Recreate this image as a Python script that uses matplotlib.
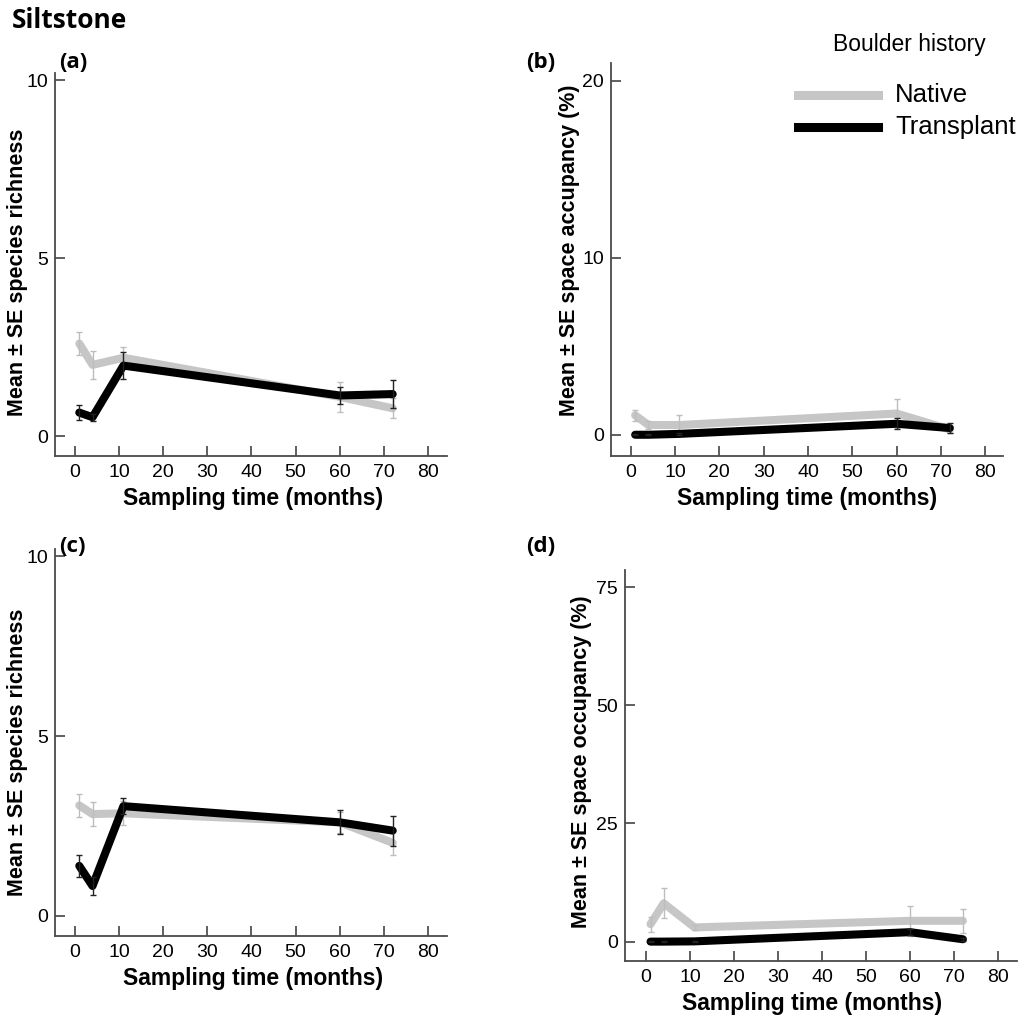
import numpy as np
import matplotlib
matplotlib.use('Agg')
import matplotlib.pyplot as plt
from matplotlib.lines import Line2D

plt.rcParams['font.family'] = ['Liberation Sans', 'DejaVu Sans']

months = [1, 4, 11, 60, 72]

# (a) species richness
a_native = [2.6, 2.0, 2.2, 1.1, 0.78]
a_native_se = [0.33, 0.4, 0.3, 0.43, 0.28]
a_trans = [0.66, 0.53, 1.98, 1.14, 1.18]
a_trans_se = [0.2, 0.1, 0.38, 0.25, 0.4]

# (b) space occupancy
b_native = [1.1, 0.55, 0.55, 1.2, 0.3]
b_native_se = [0.3, 0.2, 0.55, 0.8, 0.2]
b_trans = [0.0, 0.0, 0.05, 0.62, 0.38]
b_trans_se = [0.02, 0.02, 0.05, 0.3, 0.28]

# (c) species richness
c_native = [3.07, 2.83, 2.85, 2.6, 2.03]
c_native_se = [0.33, 0.33, 0.33, 0.3, 0.33]
c_trans = [1.39, 0.83, 3.05, 2.6, 2.37]
c_trans_se = [0.31, 0.25, 0.23, 0.33, 0.42]

# (d) space occupancy
d_native = [3.7, 8.1, 3.0, 4.4, 4.4]
d_native_se = [1.6, 3.2, 0.5, 3.2, 2.6]
d_trans = [0.0, 0.0, 0.05, 2.0, 0.5]
d_trans_se = [0.1, 0.1, 0.1, 0.6, 0.3]

x_ticks = [0, 10, 20, 30, 40, 50, 60, 70, 80]
legend_labels = ['Native', 'Transplant']
GRAY = '#c6c6c6'

W, H = 1024, 1021
fig = plt.figure(figsize=(W / 100, H / 100), dpi=100)


def px_axes(left, top, right, bottom):
    return fig.add_axes([left / W, 1 - bottom / H, (right - left) / W, (bottom - top) / H])


def draw_panel(ax, native, native_se, trans, trans_se, xlim, ylim, yticks):
    ax.plot(months, native, color=GRAY, lw=5.8, solid_capstyle='round',
            solid_joinstyle='round', zorder=2)
    ax.errorbar(months, native, yerr=native_se, fmt='none', ecolor='#bdbdbd',
                elinewidth=1.0, capsize=2.5, capthick=1.0, zorder=3)
    ax.plot(months, trans, color='black', lw=5.8, solid_capstyle='round',
            solid_joinstyle='round', zorder=4)
    ax.errorbar(months, trans, yerr=trans_se, fmt='none', ecolor='#222222',
                elinewidth=1.0, capsize=2.5, capthick=1.0, zorder=5)
    ax.set_xlim(*xlim)
    ax.set_ylim(*ylim)
    ax.set_xticks(x_ticks)
    ax.set_yticks(yticks)
    for s in ['top', 'right']:
        ax.spines[s].set_visible(False)
    for s in ['left', 'bottom']:
        ax.spines[s].set_color('#4a4a4a')
        ax.spines[s].set_linewidth(1.3)
    ax.tick_params(axis='x', direction='in', length=7.5, width=1.2, color='#444444',
                   labelsize=14, pad=6)
    ax.tick_params(axis='y', direction='in', length=7.5, width=1.2, color='#444444',
                   labelsize=14, pad=5)


# panel (a)
ax_a = px_axes(55, 73, 447, 456)
draw_panel(ax_a, a_native, a_native_se, a_trans, a_trans_se,
           (-4.5, 84.3), (-0.56, 10.2), [0, 5, 10])
# panel (b)
ax_b = px_axes(611, 63, 1003, 456)
draw_panel(ax_b, b_native, b_native_se, b_trans, b_trans_se,
           (-4.45, 84.0), (-1.2, 21.0), [0, 10, 20])
# panel (c)
ax_c = px_axes(55, 549, 447, 936)
draw_panel(ax_c, c_native, c_native_se, c_trans, c_trans_se,
           (-4.5, 84.3), (-0.56, 10.2), [0, 5, 10])
# panel (d)
ax_d = px_axes(625, 570, 1017, 961)
draw_panel(ax_d, d_native, d_native_se, d_trans, d_trans_se,
           (-4.8, 84.3), (-4.1, 78.6), [0, 25, 50, 75])


def ftext(x, y, s, **kw):
    fig.text(x / W, 1 - y / H, s, **kw)


# title and panel letters
ftext(12, 20, 'Siltstone', fontsize=19, fontweight='bold',
      family=['Open Sans', 'DejaVu Sans'], va='center', ha='left')
for x, y, s in [(59, 62, '(a)'), (526, 62, '(b)'), (59, 546, '(c)'), (526, 546, '(d)')]:
    ftext(x, y, s, fontsize=16, fontweight='bold', family=['Open Sans', 'DejaVu Sans'],
          va='center', ha='left')

# axis labels
for x, y in [(253, 505), (807, 505), (253, 985), (812, 1010)]:
    ftext(x, y, 'Sampling time (months)', fontsize=16.5, fontweight='bold',
          ha='center', va='baseline')
ftext(18, 272, 'Mean \u00b1 SE species richness', fontsize=15.5, fontweight='bold',
      rotation=90, ha='center', va='center')
ftext(570, 250, 'Mean \u00b1 SE space accupancy (%)', fontsize=15.5, fontweight='bold',
      rotation=90, ha='center', va='center')
ftext(18, 752, 'Mean \u00b1 SE species richness', fontsize=15.5, fontweight='bold',
      rotation=90, ha='center', va='center')
ftext(582, 762, 'Mean \u00b1 SE space occupancy (%)', fontsize=15.5, fontweight='bold',
      rotation=90, ha='center', va='center')

# legend, drawn by hand to match the placement
ftext(909, 45, 'Boulder history', fontsize=16.5, ha='center', va='center')
for (y, label, col) in [(95, legend_labels[0], GRAY), (127, legend_labels[1], 'black')]:
    fig.add_artist(Line2D([798 / W, 878 / W], [1 - y / H, 1 - y / H], color=col, lw=6.5,
                          transform=fig.transFigure))
    ftext(895, y, label, fontsize=18.5, ha='left', va='center')

fig.savefig('out.png', dpi=100)
